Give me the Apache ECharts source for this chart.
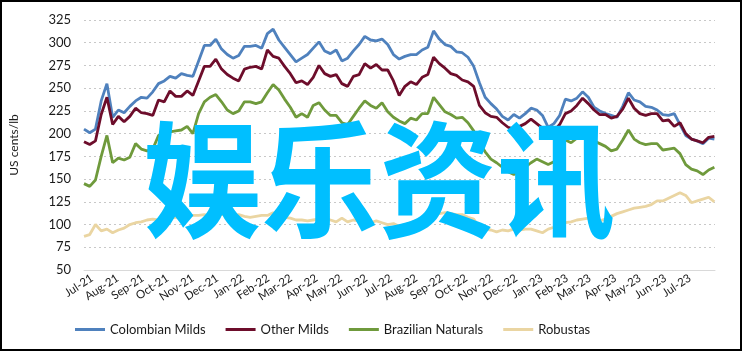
<!DOCTYPE html>
<html>
<head>
<meta charset="utf-8">
<script src="https://cdn.jsdelivr.net/npm/echarts@6/dist/echarts.min.js"></script>
<style>
  html, body { margin: 0; padding: 0; background: #fff; }
  #view { width: 743px; height: 352px; }
</style>
</head>
<body>
<div id="view"></div>
<script>
var myCharts = echarts.init(document.getElementById("view"));

/* 周度数据，从 2021-06-21 起每 7 天一个点 */
var weekStart = [2021, 5, 21];

var colombianMilds = [205, 201, 205, 236, 255, 218, 226, 223, 230, 236, 240, 239, 246, 255, 258, 263, 261, 266, 264, 263,
    280, 297, 297, 304, 293, 287, 283, 286, 296, 296, 297, 294, 310, 315, 303, 295, 287, 279, 283, 287,
    294, 301, 291, 288, 292, 280, 283, 291, 298, 307, 303, 302, 304, 298, 287, 282, 285, 287, 287, 292,
    295, 313, 304, 298, 296, 290, 289, 284, 274, 256, 240, 233, 227, 219, 215, 221, 217, 222, 228, 226,
    220, 207, 211, 220, 238, 236, 239, 246, 240, 229, 225, 222, 220, 218, 230, 245, 237, 235, 230, 229,
    226, 221, 220, 222, 210, 198, 194, 192, 189, 195, 194];

var otherMilds = [191, 188, 192, 221, 240, 210, 219, 213, 219, 228, 223, 222, 220, 237, 235, 247, 241, 241, 247, 242,
    258, 274, 274, 282, 271, 265, 261, 258, 271, 273, 274, 271, 292, 285, 283, 274, 266, 256, 258, 254,
    262, 275, 266, 263, 265, 255, 252, 263, 265, 277, 272, 276, 270, 270, 258, 242, 252, 257, 254, 262,
    265, 284, 277, 272, 266, 264, 259, 257, 252, 231, 223, 219, 218, 212, 207, 205, 208, 211, 216, 211,
    206, 198, 203, 210, 222, 225, 231, 239, 233, 226, 221, 221, 217, 219, 227, 239, 228, 222, 220, 222,
    222, 214, 215, 208, 212, 200, 194, 192, 190, 196, 197];

var brazilianNaturals = [145, 142, 149, 175, 198, 168, 173, 171, 174, 189, 183, 181, 183, 198, 200, 202, 203, 204, 208, 200,
    222, 235, 240, 243, 235, 226, 222, 225, 235, 235, 233, 235, 245, 254, 248, 238, 229, 218, 222, 218,
    231, 234, 226, 220, 220, 212, 210, 219, 228, 236, 231, 228, 234, 224, 218, 214, 211, 217, 215, 222,
    222, 240, 232, 224, 221, 217, 218, 212, 203, 190, 180, 172, 168, 163, 158, 155, 160, 163, 168, 172,
    169, 166, 169, 178, 193, 190, 195, 202, 196, 192, 189, 186, 181, 183, 193, 204, 194, 190, 188, 189,
    189, 182, 183, 184, 178, 166, 161, 159, 155, 160, 163];

var robustas = [87, 89, 100, 93, 95, 91, 94, 96, 100, 102, 103, 105, 106, 105, 107, 107, 108, 109, 109, 110,
    110, 111, 110, 110, 111, 111, 110, 111, 109, 108, 109, 110, 110, 113, 109, 108, 107, 105, 105, 104,
    105, 106, 107, 105, 103, 107, 103, 105, 104, 101, 102, 104, 102, 100, 101, 98, 100, 102, 104, 106,
    108, 113, 112, 113, 112, 111, 111, 108, 106, 97, 95, 94, 92, 94, 93, 95, 94, 95, 95, 93,
    91, 95, 97, 99, 102, 103, 105, 106, 107, 106, 104, 106, 109, 112, 114, 116, 118, 119, 120, 122,
    126, 126, 129, 132, 135, 132, 124, 126, 128, 130, 125];

var seriesNames = ['Colombian Milds', 'Other Milds', 'Brazilian Naturals', 'Robustas'];
var seriesColors = ['#4f81bd', '#6d0d2b', '#6f9a3c', '#ead5a2'];
var yTicks = [50, 75, 100, 125, 150, 175, 200, 225, 250, 275, 300, 325];

var DAY = 24 * 3600 * 1000;
var t0 = new Date(weekStart[0], weekStart[1], weekStart[2]).getTime();

function pairs(values) {
    return values.map(function (v, i) {
        return [t0 + i * 7 * DAY, v];
    });
}

var allValues = [colombianMilds, otherMilds, brazilianNaturals, robustas];

myCharts.clear();

option = {
    animation: false,
    textStyle: { fontFamily: 'Lato' },
    grid: { left: 79, right: 28, top: 20, bottom: 82 },
    /* 图例 */
    legend: {
        left: 70,
        bottom: 11,
        icon: 'rect',
        itemWidth: 30,
        itemHeight: 3,
        itemGap: 20,
        textStyle: { fontSize: 13, color: '#1a1a1a', fontFamily: 'Lato' },
        data: seriesNames
    },
    /* X 轴 时间 */
    xAxis: {
        type: 'time',
        min: t0,
        max: new Date(2023, 6, 31, 18).getTime(),
        minInterval: 28 * DAY,
        maxInterval: 31 * DAY,
        axisLine: { lineStyle: { color: '#d9d9d9', width: 1 } },
        axisTick: { show: false },
        splitLine: { show: false },
        axisLabel: {
            formatter: '{MMM}-{yy}',
            rotate: 33,
            fontSize: 11.5,
            color: '#1a1a1a',
            margin: 7,
            interval: 0,
            hideOverlap: false,
            showMinLabel: false,
            showMaxLabel: false
        }
    },
    /* Y 轴 */
    yAxis: {
        type: 'value',
        min: yTicks[0],
        max: yTicks[yTicks.length - 1],
        interval: 25,
        name: 'US cents/lb',
        nameLocation: 'middle',
        nameGap: 64,
        nameTextStyle: { fontSize: 12, color: '#1a1a1a' },
        axisLine: { show: false },
        axisTick: { show: false },
        axisLabel: { fontSize: 13, color: '#1a1a1a', margin: 13 },
        splitLine: { lineStyle: { color: '#c8c8c8', type: [2, 3], width: 1.2 } }
    },
    series: seriesNames.map(function (name, i) {
        return {
            name: name,
            type: 'line',
            showSymbol: false,
            data: pairs(allValues[i]),
            color: seriesColors[i],
            lineStyle: { width: 2.8, color: seriesColors[i] }
        };
    }),
    /* 水印和外框 */
    graphic: [
        {
            type: 'text',
            x: 143,
            y: 116,
            scaleY: 1.08,
            z: 100,
            style: {
                text: '娱乐资讯',
                fill: '#00bfff',
                fontSize: 118,
                fontWeight: 'bold',
                fontFamily: 'Noto Sans CJK SC'
            }
        },
        {
            type: 'rect',
            z: 100,
            shape: { x: 1, y: 1, width: 740, height: 349 },
            style: { fill: 'none', stroke: '#000', lineWidth: 2 }
        }
    ]
};

myCharts.setOption(option);
</script>
</body>
</html>
